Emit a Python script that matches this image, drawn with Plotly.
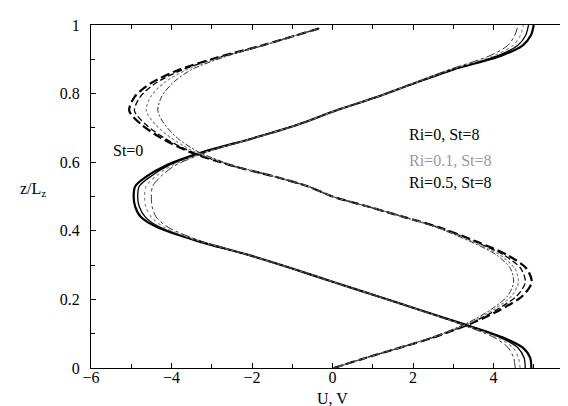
import plotly.graph_objects as go

# vertical coordinate z/Lz
z_u = [0, 0.03, 0.06, 0.09, 0.13, 0.17, 0.21, 0.25, 0.29, 0.33, 0.37, 0.41, 0.44, 0.47, 0.50,
       0.53, 0.56, 0.59, 0.63, 0.67, 0.71, 0.75, 0.79, 0.83, 0.87, 0.91, 0.94, 0.97, 1.0]
z_v = [0, 0.03, 0.06, 0.09, 0.13, 0.17, 0.21, 0.25, 0.29, 0.33, 0.37, 0.41, 0.44, 0.47, 0.50,
       0.53, 0.56, 0.59, 0.63, 0.67, 0.71, 0.75, 0.79, 0.83, 0.87, 0.91, 0.94, 0.97, 0.99]

# U profiles
U_st0 = [4.94, 4.91, 4.72, 4.21, 3.20, 2.15, 1.10, 0.04, -1.00, -2.10, -3.35, -4.35, -4.76, -4.90, -4.94,
         -4.90, -4.60, -4.15, -3.20, -1.97, -0.85, 0.07, 1.10, 2.03, 2.99, 4.18, 4.72, 4.93, 5.00]
U_ri0 = [4.79, 4.76, 4.60, 4.15, 3.18, 2.14, 1.10, 0.04, -1.00, -2.10, -3.33, -4.28, -4.65, -4.80, -4.84,
         -4.80, -4.50, -4.08, -3.17, -1.97, -0.85, 0.07, 1.10, 2.03, 2.97, 4.10, 4.60, 4.80, 4.87]
U_ri01 = [4.66, 4.62, 4.48, 4.08, 3.15, 2.13, 1.10, 0.04, -1.00, -2.10, -3.30, -4.18, -4.50, -4.64, -4.67,
          -4.63, -4.38, -4.00, -3.13, -1.96, -0.85, 0.07, 1.10, 2.02, 2.94, 4.00, 4.48, 4.67, 4.74]
U_ri05 = [4.54, 4.50, 4.36, 4.00, 3.12, 2.12, 1.10, 0.04, -1.00, -2.09, -3.26, -4.08, -4.38, -4.48, -4.50,
          -4.47, -4.25, -3.92, -3.10, -1.95, -0.85, 0.07, 1.10, 2.01, 2.90, 3.90, 4.35, 4.53, 4.61]

# V profiles
V_st0 = [0.03, 0.84, 1.70, 2.53, 3.45, 4.17, 4.72, 4.95, 4.82, 4.33, 3.55, 2.65, 1.78, 0.90, 0.00,
         -0.62, -1.50, -2.50, -3.55, -4.25, -4.75, -5.05, -4.92, -4.52, -3.80, -2.72, -1.76, -0.90, -0.33]
V_ri0 = [0.03, 0.84, 1.70, 2.53, 3.42, 4.08, 4.58, 4.79, 4.68, 4.25, 3.50, 2.63, 1.78, 0.90, 0.00,
         -0.62, -1.50, -2.50, -3.50, -4.17, -4.64, -4.92, -4.78, -4.40, -3.72, -2.68, -1.75, -0.90, -0.33]
V_ri01 = [0.03, 0.84, 1.70, 2.50, 3.38, 4.00, 4.45, 4.62, 4.53, 4.15, 3.45, 2.60, 1.78, 0.90, 0.00,
          -0.62, -1.50, -2.48, -3.42, -4.00, -4.40, -4.63, -4.52, -4.20, -3.62, -2.64, -1.74, -0.90, -0.33]
V_ri05 = [0.03, 0.84, 1.70, 2.48, 3.33, 3.93, 4.35, 4.50, 4.42, 4.07, 3.40, 2.58, 1.78, 0.90, 0.00,
          -0.62, -1.50, -2.45, -3.33, -3.85, -4.17, -4.34, -4.25, -3.98, -3.50, -2.60, -1.73, -0.90, -0.33]

x_ticks = [-6, -4, -2, 0, 2, 4, 6]
y_ticks = [0, 0.2, 0.4, 0.6, 0.8, 1]

FONT = "Liberation Serif"

fig = go.Figure()

u_styles = [
    (U_st0, dict(color="black", width=2.2, dash="solid")),
    (U_ri0, dict(color="black", width=1.3, dash="solid")),
    (U_ri01, dict(color="#8a8a8a", width=1.2, dash="dot")),
    (U_ri05, dict(color="#333333", width=1.0, dash="dashdot")),
]
v_styles = [
    (V_st0, dict(color="black", width=2.2, dash="9px,4px")),
    (V_ri0, dict(color="black", width=1.3, dash="6px,3px")),
    (V_ri01, dict(color="#8a8a8a", width=1.2, dash="3px,2px")),
    (V_ri05, dict(color="#333333", width=1.0, dash="6px,2px,2px,2px")),
]
for vals, ln in u_styles:
    fig.add_trace(go.Scatter(x=vals, y=z_u, mode="lines", line=dict(shape="spline", smoothing=0.8, **ln),
                             showlegend=False, hoverinfo="skip"))
for vals, ln in v_styles:
    fig.add_trace(go.Scatter(x=vals, y=z_v, mode="lines", line=dict(shape="spline", smoothing=0.8, **ln),
                             showlegend=False, hoverinfo="skip"))

ann = [
    dict(x=-5.5, y=0.634, text="St=0", color="black"),
    dict(x=1.84, y=0.68, text="Ri=0, St=8", color="black"),
    dict(x=1.84, y=0.606, text="Ri=0.1, St=8", color="#9a9a9a"),
    dict(x=1.84, y=0.54, text="Ri=0.5, St=8", color="black"),
]
for a in ann:
    fig.add_annotation(x=a["x"], y=a["y"], text=a["text"], showarrow=False, xanchor="left", yanchor="middle",
                       font=dict(family=FONT, size=16, color=a["color"]))

fig.add_annotation(xref="paper", yref="paper", x=-0.152, y=0.52, text="z/L<sub>z</sub>", showarrow=False,
                   xanchor="left", yanchor="middle", font=dict(family=FONT, size=16, color="black"))
fig.add_annotation(xref="x", yref="paper", x=0, y=-0.088, text="U, V", showarrow=False,
                   xanchor="center", yanchor="middle", font=dict(family=FONT, size=16, color="black"))

axis_common = dict(showline=True, linecolor="black", linewidth=1, mirror="ticks", ticks="inside",
                   ticklen=5, tickcolor="black", showgrid=False, zeroline=False,
                   tickfont=dict(family=FONT, size=16, color="black"))

fig.update_xaxes(range=[-6, 6], tickvals=x_ticks, ticklabelstandoff=-5, **axis_common,
                 minor=dict(dtick=1, ticks="inside", ticklen=4, tickcolor="black", showgrid=False))
fig.update_yaxes(range=[0, 1], tickvals=y_ticks, ticklabelstandoff=7, **axis_common,
                 minor=dict(dtick=0.1, ticks="inside", ticklen=4, tickcolor="black", showgrid=False))

fig.update_layout(width=568, height=406, margin=dict(l=83, r=2, t=17, b=46),
                  paper_bgcolor="white", plot_bgcolor="white",
                  font=dict(family=FONT, size=16, color="black"))

fig.write_html("out.html")
